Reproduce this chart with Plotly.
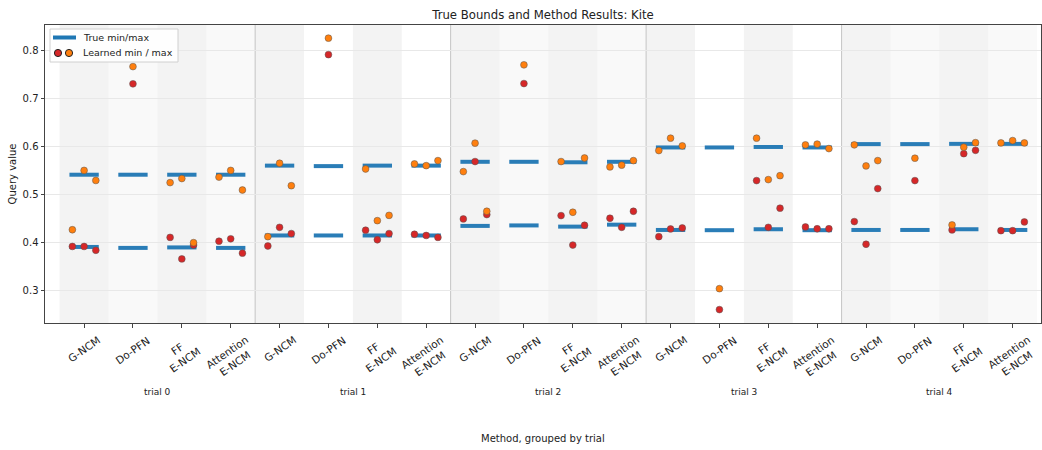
import plotly.graph_objects as go

methods = ["G-NCM", "Do-PFN", "FF<br>E-NCM", "Attention<br>E-NCM"]
trials = ["trial 0", "trial 1", "trial 2", "trial 3", "trial 4"]

true_max = [
    [0.541, 0.541, 0.541, 0.541],
    [0.560, 0.559, 0.560, 0.560],
    [0.568, 0.568, 0.567, 0.568],
    [0.598, 0.598, 0.599, 0.598],
    [0.605, 0.605, 0.6055, 0.6055],
]
true_min = [
    [0.390, 0.388, 0.389, 0.388],
    [0.414, 0.414, 0.414, 0.414],
    [0.434, 0.435, 0.4325, 0.4366],
    [0.4255, 0.425, 0.427, 0.425],
    [0.4255, 0.4255, 0.427, 0.4255],
]
learned_max = [
    [[0.426, 0.550, 0.529], [0.767], [0.5245, 0.533, 0.399], [0.536, 0.550, 0.509]],
    [[0.4115, 0.565, 0.518], [0.8265], [0.553, 0.445, 0.456], [0.5636, 0.560, 0.5705]],
    [[0.5475, 0.607, 0.4646], [0.7707], [0.5685, 0.4625, 0.576], [0.5573, 0.561, 0.5705]],
    [[0.5915, 0.6174, 0.6013], [0.3028], [0.6174, 0.5308, 0.539], [0.6034, 0.605, 0.5956]],
    [[0.6034, 0.5594, 0.5705], [0.5755], [0.436, 0.5985, 0.608], [0.6075, 0.6124, 0.6075]],
]
learned_min = [
    [[0.391, 0.391, 0.383], [0.731], [0.410, 0.365, 0.394], [0.402, 0.407, 0.377]],
    [[0.392, 0.431, 0.418], [0.792], [0.425, 0.405, 0.418], [0.4165, 0.414, 0.410]],
    [[0.4485, 0.5685, 0.4576], [0.7316], [0.4555, 0.394, 0.4354], [0.450, 0.431, 0.4646]],
    [[0.4115, 0.4276, 0.4297], [0.259], [0.5287, 0.431, 0.471], [0.4318, 0.428, 0.428]],
    [[0.443, 0.3956, 0.512], [0.5287], [0.4255, 0.585, 0.592], [0.424, 0.424, 0.4423]],
]

FONT = "DejaVu Sans"
BLUE = "#1f77b4"
RED = "#d62728"
ORANGE = "#ff7f0e"
HALF = 0.3
SPREAD = 0.24

nm = len(methods)
tickvals, ticktext = [], []
line_x, line_y = [], []
rx, ry, ox, oy = [], [], [], []
for t in range(len(trials)):
    for m in range(nm):
        c = t * nm + m
        tickvals.append(c)
        ticktext.append(methods[m])
        for v in (true_max[t][m], true_min[t][m]):
            line_x += [c - HALF, c + HALF, None]
            line_y += [v, v, None]
        mins = learned_min[t][m]
        maxs = learned_max[t][m]
        n = len(mins)
        offs = [0.0] if n == 1 else [-SPREAD + 2 * SPREAD * k / (n - 1) for k in range(n)]
        for k in range(n):
            rx.append(c + offs[k]); ry.append(mins[k])
            ox.append(c + offs[k]); oy.append(maxs[k])

fig = go.Figure()
fig.add_trace(go.Scatter(x=line_x, y=line_y, mode="lines",
                         line=dict(color=BLUE, width=4), opacity=0.95,
                         showlegend=False, hoverinfo="skip"))
mk = dict(size=6.8, line=dict(color="#555555", width=0.5))
fig.add_trace(go.Scatter(x=rx, y=ry, mode="markers",
                         marker=dict(color=RED, **mk), showlegend=False))
fig.add_trace(go.Scatter(x=ox, y=oy, mode="markers",
                         marker=dict(color=ORANGE, **mk), showlegend=False))

shapes = []
ntot = len(trials) * nm
for t in range(len(trials)):
    if t % 2 == 0:
        shapes.append(dict(type="rect", xref="x", yref="paper",
                           x0=t * nm - 0.5, x1=t * nm + nm - 0.5, y0=0, y1=1,
                           fillcolor="#f9f9f9", line=dict(width=0), layer="below"))
for c in range(ntot):
    if c % 2 == 0:
        shapes.append(dict(type="rect", xref="x", yref="paper",
                           x0=c - 0.5, x1=c + 0.5, y0=0, y1=1,
                           fillcolor="#f3f3f3", line=dict(width=0), layer="below"))
for t in range(1, len(trials)):
    shapes.append(dict(type="line", xref="x", yref="paper",
                       x0=t * nm - 0.5, x1=t * nm - 0.5, y0=0, y1=1,
                       line=dict(color="#c4c4c4", width=1), layer="between"))

# custom legend (paper coords of plot area)
L, R, T, B = 45, 1041, 25, 323
def px(x):
    return (x - L) / (R - L)
def py(y):
    return (B - y) / (B - T)

shapes.append(dict(type="rect", xref="paper", yref="paper",
                   x0=px(50), x1=px(178), y0=py(29), y1=py(62),
                   fillcolor="rgba(255,255,255,0.85)",
                   line=dict(color="#d0d0d0", width=1), layer="above"))
shapes.append(dict(type="line", xref="paper", yref="paper",
                   x0=px(53), x1=px(76), y0=py(37.5), y1=py(37.5),
                   line=dict(color=BLUE, width=4), layer="above"))
for cx, col in ((58, RED), (69, ORANGE)):
    shapes.append(dict(type="circle", xref="paper", yref="paper",
                       xsizemode="pixel", ysizemode="pixel",
                       xanchor=px(cx), yanchor=py(53),
                       x0=-3.6, x1=3.6, y0=-3.6, y1=3.6,
                       fillcolor=col, line=dict(color="#222222", width=1),
                       layer="above"))

annotations = [
    dict(text="True min/max", xref="paper", yref="paper", x=px(81), y=py(37.5),
         xanchor="left", yanchor="middle", showarrow=False,
         font=dict(family=FONT, size=9.5, color="#222222")),
    dict(text="Learned min / max", xref="paper", yref="paper", x=px(81), y=py(53),
         xanchor="left", yanchor="middle", showarrow=False,
         font=dict(family=FONT, size=9.5, color="#222222")),
    dict(text="Method, grouped by trial", xref="paper", yref="paper", x=0.5, y=0,
         yshift=-115, xanchor="center", yanchor="middle", showarrow=False,
         font=dict(family=FONT, size=10, color="#222222")),
]
for t, name in enumerate(trials):
    annotations.append(dict(text=name, xref="x", yref="paper", x=t * nm + (nm - 1) / 2,
                            y=0, yshift=-69, xanchor="center", yanchor="middle",
                            showarrow=False,
                            font=dict(family=FONT, size=9, color="#222222")))
# rotated, centred category labels (matplotlib-style)
for xv, lab in zip(tickvals, ticktext):
    annotations.append(dict(text=lab, xref="x", yref="paper", x=xv, y=0,
                            yshift=-8, xanchor="center", yanchor="top",
                            textangle=-35, align="center", showarrow=False,
                            font=dict(family=FONT, size=10.5, color="#222222")))

fig.update_layout(
    width=1042, height=450,
    margin=dict(l=45, r=1, t=25, b=127),
    paper_bgcolor="white", plot_bgcolor="white",
    title=dict(text="True Bounds and Method Results: Kite", x=(L + R) / 2 / 1042,
               xanchor="center", y=1 - 15 / 450, yanchor="middle",
               font=dict(family=FONT, size=11.7, color="#222222")),
    font=dict(family=FONT, size=10, color="#222222"),
    shapes=shapes, annotations=annotations, showlegend=False,
    xaxis=dict(range=[-0.8, 19.58], tickmode="array", tickvals=tickvals,
               ticktext=ticktext, showticklabels=False, showgrid=False, zeroline=False,
               showline=True, linecolor="#444444", linewidth=1, mirror=True,
               ticks="outside", ticklen=3.5, tickcolor="#444444"),
    yaxis=dict(range=[0.231, 0.854], tickvals=[0.3, 0.4, 0.5, 0.6, 0.7, 0.8],
               ticktext=["0.3", "0.4", "0.5", "0.6", "0.7", "0.8"],
               showgrid=True, gridcolor="#e8e8e8", gridwidth=1, zeroline=False,
               showline=True, linecolor="#444444", linewidth=1, mirror=True,
               ticks="outside", ticklen=3.5, tickcolor="#444444",
               tickfont=dict(family=FONT, size=10, color="#222222"),
               title=dict(text="Query value", standoff=4,
                          font=dict(family=FONT, size=10, color="#222222"))),
)

fig.write_html("out.html")
